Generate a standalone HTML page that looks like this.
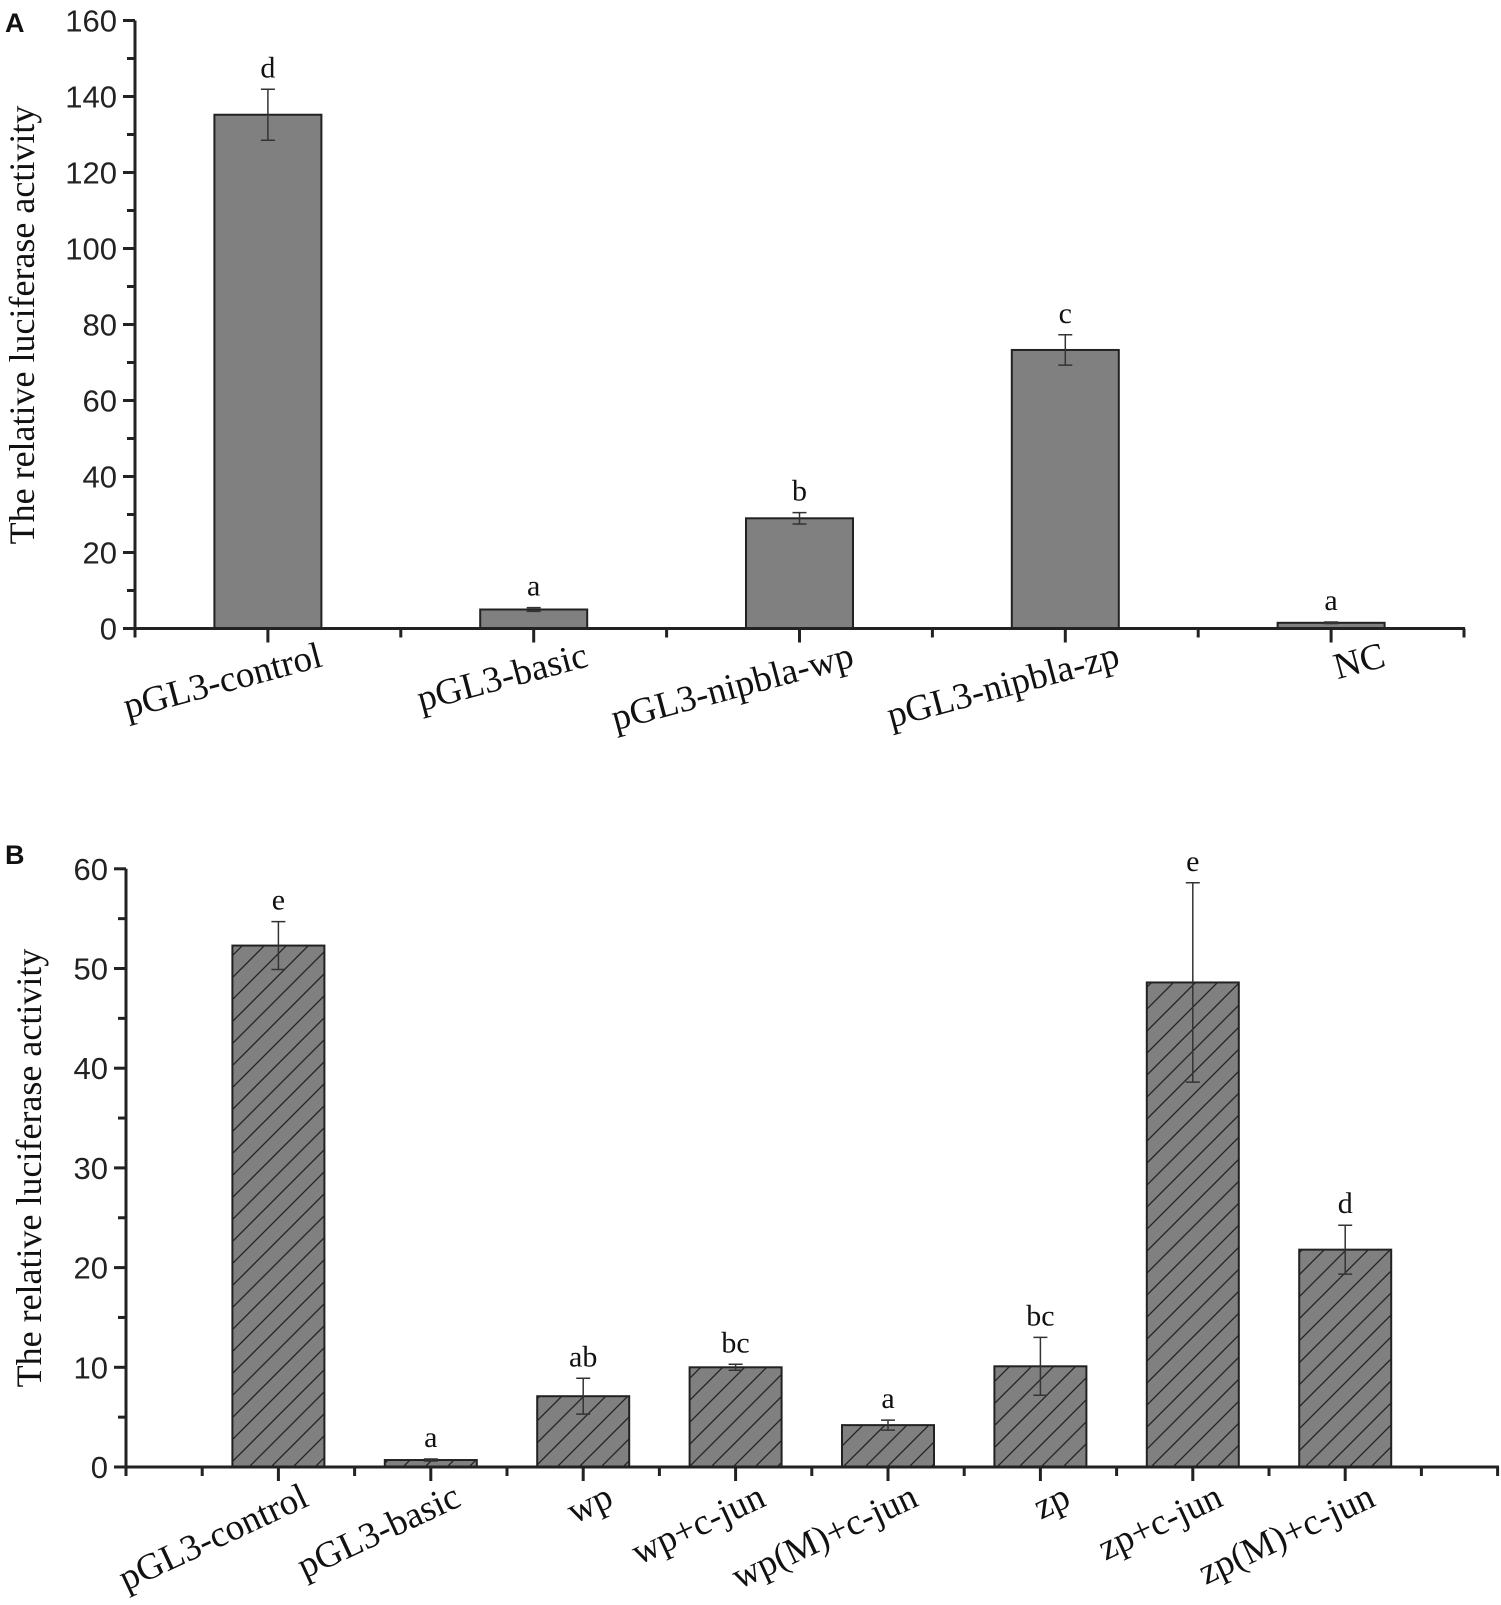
<!DOCTYPE html>
<html><head><meta charset="utf-8"><style>
html,body{margin:0;padding:0;background:#fff}
svg{display:block}
.tick{font-family:"Liberation Sans",sans-serif;font-size:31px;fill:#222}
.ser{font-family:"Liberation Serif",serif;fill:#111}
</style></head><body>
<svg id="svg" width="1501" height="1605" viewBox="0 0 1501 1605" xmlns="http://www.w3.org/2000/svg">
<defs>
<pattern id="hatch" patternUnits="userSpaceOnUse" width="22" height="22">
<rect width="22" height="22" fill="#808080"/>
<path d="M0,22 L22,0 M-11,11 L11,-11 M11,33 L33,11" stroke="#222" stroke-width="1.3"/>
</pattern>
</defs>
<g id="panelA"></g>
<g id="panelB"></g>
</svg>
<script>
const catsA = ["pGL3-control","pGL3-basic","pGL3-nipbla-wp","pGL3-nipbla-zp","NC"];
const valsA = [135.2, 5, 29, 73.3, 1.5];
const errsA = [6.7, 0.5, 1.5, 4, 0.2];
const lettersA = ["d","a","b","c","a"];
const ticksA = [0,20,40,60,80,100,120,140,160];

const catsB = ["pGL3-control","pGL3-basic","wp","wp+c-jun","wp(M)+c-jun","zp","zp+c-jun","zp(M)+c-jun"];
const valsB = [52.3, 0.7, 7.1, 10, 4.2, 10.1, 48.6, 21.8];
const errsB = [2.4, 0.1, 1.8, 0.3, 0.5, 2.9, 10, 2.45];
const lettersB = ["e","a","ab","bc","a","bc","e","d"];
const ticksB = [0,10,20,30,40,50,60];

const NS="http://www.w3.org/2000/svg";
function mk(parent,tag,attrs,text){const e=document.createElementNS(NS,tag);for(const k in attrs)e.setAttribute(k,attrs[k]);if(text!==undefined)e.textContent=text;parent.appendChild(e);return e;}

function panel(g,o){
  const y=v=>o.y0-v*o.ky;
  const x=i=>o.x0+(i+o.off)*o.kx;
  const pl=mk(g,'text',{x:5,y:o.letterY,'font-family':'Liberation Sans, sans-serif','font-weight':'bold','font-size':'27','fill':'#111'},o.letter);
  
  
  const yt=mk(g,'text',{class:'ser','font-size':'36','text-anchor':'middle',transform:`translate(${o.titleX},${o.titleY}) rotate(-90)`},'The relative luciferase activity');
  
  
  o.vals.forEach((v,i)=>{
    const cx=x(i);
    const r=mk(g,'rect',{x:cx-o.bw/2,y:y(v),width:o.bw,height:v*o.ky,fill:o.fill,stroke:'#222','stroke-width':2});
    
    
    const e=o.errs[i];
    const eb=mk(g,'path',{d:`M${cx},${y(v+e)}V${y(v-e)}M${cx-7},${y(v+e)}H${cx+7}M${cx-7},${y(v-e)}H${cx+7}`,stroke:'#333','stroke-width':1.5,fill:'none'});
    
    
    const lt=mk(g,'text',{class:'ser','font-size':'30','text-anchor':'middle',x:cx,y:y(v+e)-12},o.letters[i]);
    
    
    const cl=mk(g,'text',{class:'ser','font-size':'37','text-anchor':'end',transform:`translate(${cx+o.lblDx},${o.lblY}) rotate(${o.rot})`},o.cats[i]);
    
    
  });
  const ax=mk(g,'path',{d:`M${o.x0},${y(o.ymax)}V${o.y0}H${o.xend}`,stroke:'#222','stroke-width':3,fill:'none'});
  
  
  o.ticks.forEach((t,i)=>{
    mk(g,'path',{d:`M${o.x0-12},${y(t)}H${o.x0}`,stroke:'#222','stroke-width':3});
    if(i<o.ticks.length-1) mk(g,'path',{d:`M${o.x0-8},${y(t+o.step/2)}H${o.x0}`,stroke:'#222','stroke-width':3});
    const tl=mk(g,'text',{class:'tick','text-anchor':'end',x:o.x0-18,y:y(t)+11},String(t));
    
    
  });
  for(let h=0;h<=o.nhalf;h++){
    const xx=o.x0+h*o.kx/2;
    const major=(o.majorOdd? h%2===1 : h%2===0) && h>0 && h<o.nhalf;
    mk(g,'path',{d:`M${xx},${o.y0}V${o.y0+(major?14:9)}`,stroke:'#222','stroke-width':3});
  }
}
panel(document.getElementById('panelA'),{letter:'A',letterY:32,titleX:34,titleY:325,
  x0:135,xend:1465,kx:265.8,off:0.5,y0:628.5,ky:3.8,ymax:160,step:20,
  vals:valsA,errs:errsA,cats:catsA,letters:lettersA,ticks:ticksA,bw:107,fill:'#808080',
  lblDx:56,lblY:666,rot:-15,nhalf:10,majorOdd:true});
panel(document.getElementById('panelB'),{letter:'B',letterY:864,titleX:41,titleY:1168,
  x0:126,xend:1499,kx:152.4,off:1,y0:1467,ky:9.97,ymax:60,step:10,
  vals:valsB,errs:errsB,cats:catsB,letters:lettersB,ticks:ticksB,bw:92,fill:'url(#hatch)',
  lblDx:32,lblY:1505,rot:-25,nhalf:18,majorOdd:false});
</script>
</body></html>
